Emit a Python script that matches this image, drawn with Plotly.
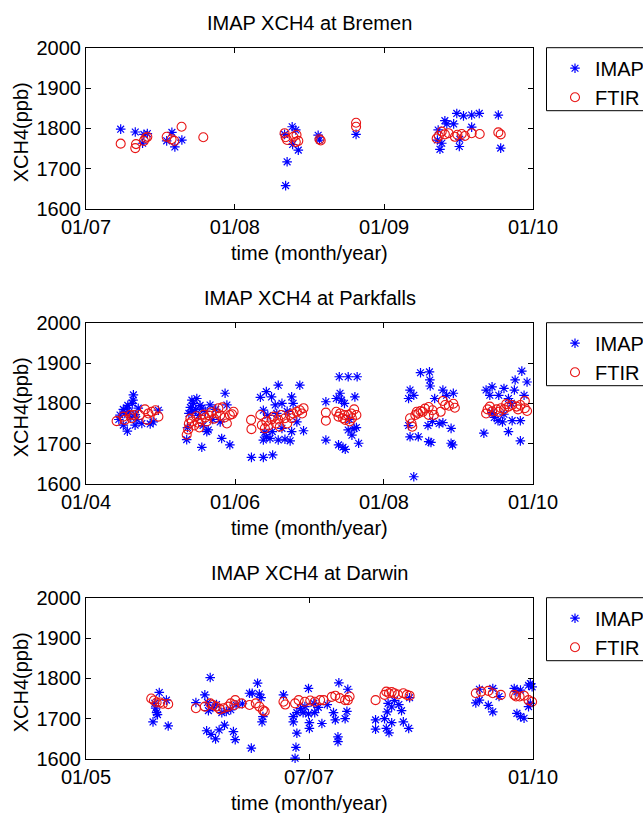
import datetime as dt

import numpy as np
import pandas as pd
import plotly.graph_objects as go

# ---------------------------------------------------------------------------
# Column-averaged methane (XCH4, ppb): IMAP retrievals vs. ground-based FTIR.
# Times are decimal years.
# ---------------------------------------------------------------------------

# Bremen
bremen_imap_t = [2007.233, 2007.331, 2007.389, 2007.412, 2007.380, 2007.577, 2007.542, 2007.597, 2007.644,
                 2008.384, 2008.408, 2008.333, 2008.387, 2008.425, 2008.350, 2008.340, 2008.558, 2008.567, 2008.812,
                 2009.408, 2009.421, 2009.467, 2009.363, 2009.358, 2009.375, 2009.387, 2009.505, 2009.508,
                 2009.488, 2009.533, 2009.588, 2009.588, 2009.639, 2009.767, 2009.783]
bremen_imap_v = [1798, 1791, 1785, 1787, 1763, 1790, 1769, 1754, 1771,
                 1804, 1796, 1785, 1760, 1746, 1717, 1658, 1783, 1771, 1785,
                 1819, 1811, 1811, 1796, 1771, 1748, 1763, 1755, 1773,
                 1837, 1831, 1833, 1803, 1837, 1833, 1751]
bremen_ftir_t = [2007.233, 2007.331, 2007.336, 2007.389, 2007.412, 2007.400, 2007.542, 2007.575, 2007.593, 2007.642, 2007.788,
                 2008.333, 2008.340, 2008.350, 2008.392, 2008.413, 2008.425, 2008.408, 2008.567, 2008.575, 2008.812, 2008.812,
                 2009.353, 2009.367, 2009.387, 2009.408, 2009.433, 2009.475, 2009.492, 2009.521, 2009.542,
                 2009.588, 2009.642, 2009.767, 2009.783]
bremen_ftir_v = [1762, 1751, 1761, 1769, 1779, 1776, 1779, 1773, 1769, 1804, 1778,
                 1788, 1778, 1771, 1779, 1784, 1769, 1766, 1773, 1770, 1814, 1804,
                 1775, 1781, 1792, 1785, 1788, 1779, 1784, 1786, 1781,
                 1788, 1786, 1790, 1785]

# Park Falls
parkfalls_imap_t = [
    2004.635, 2004.630, 2004.620, 2004.546, 2004.500, 2004.554, 2004.500, 2004.658, 2004.748, 2004.860,
    2004.900, 2004.456, 2004.700, 2004.970, 2004.520, 2004.580, 2004.600, 2004.660, 2004.560, 2004.680, 2004.440,
    2005.486, 2005.553, 2005.664, 2005.866, 2005.890, 2005.640, 2005.553, 2005.820, 2005.930, 2005.800,
    2005.350, 2005.420, 2005.360, 2005.380, 2005.400, 2005.430, 2005.440, 2005.470, 2005.510, 2005.530,
    2005.570, 2005.600, 2005.620, 2005.700, 2005.740,
    2006.580, 2006.870, 2006.420, 2006.340, 2006.490, 2006.540, 2006.630, 2006.760, 2006.780, 2006.380,
    2006.220, 2006.380, 2006.505, 2006.380, 2006.470, 2006.580, 2006.670, 2006.740, 2006.760, 2006.830,
    2006.920, 2006.630, 2006.500, 2006.400, 2006.440, 2006.560, 2006.700, 2006.420,
    2007.400, 2007.520, 2007.640, 2007.220, 2007.410, 2007.430, 2007.470, 2007.610, 2007.220, 2007.390,
    2007.450, 2007.480, 2007.660, 2007.520, 2007.570, 2007.600, 2007.360, 2007.630, 2007.540,
    2008.400, 2008.490, 2008.610, 2008.615, 2008.620, 2008.790, 2008.930, 2008.350, 2008.400, 2008.460,
    2008.350, 2008.600, 2008.630, 2008.900, 2008.920, 2008.900, 2008.790, 2008.740, 2008.590, 2008.330,
    2008.650, 2008.840, 2008.680, 2008.330,
    2009.340, 2009.370, 2009.450, 2009.610, 2009.750, 2009.760, 2009.850, 2009.920, 2009.830, 2009.830,
    2009.670, 2009.590, 2009.530, 2009.480, 2009.540, 2009.670, 2009.710, 2009.420, 2009.880, 2009.720,
    2009.450, 2009.610,
]
parkfalls_imap_v = [
    1821, 1808, 1800, 1788, 1785, 1731, 1746, 1746, 1750, 1749,
    1754, 1771, 1788, 1783, 1775, 1779, 1765, 1772, 1795, 1760, 1760,
    1812, 1788, 1796, 1825, 1796, 1734, 1691, 1713, 1697, 1754,
    1710, 1808, 1740, 1775, 1790, 1780, 1800, 1785, 1770, 1795,
    1745, 1780, 1730, 1760, 1785,
    1845, 1845, 1829, 1815, 1816, 1796, 1800, 1816, 1800, 1783,
    1666, 1666, 1672, 1709, 1713, 1709, 1711, 1707, 1730, 1754,
    1732, 1738, 1730, 1728, 1770, 1775, 1780, 1717,
    1866, 1866, 1866, 1804, 1825, 1808, 1800, 1816, 1709, 1697,
    1691, 1686, 1701, 1734, 1721, 1738, 1812, 1740, 1760,
    1618, 1876, 1878, 1858, 1843, 1833, 1825, 1833, 1820, 1717,
    1717, 1705, 1703, 1701, 1697, 1738, 1752, 1750, 1745, 1745,
    1755, 1820, 1812, 1812,
    1726, 1833, 1841, 1837, 1833, 1858, 1880, 1853, 1707, 1757,
    1730, 1754, 1757, 1765, 1820, 1812, 1800, 1820, 1820, 1757,
    1777, 1773,
]
parkfalls_ftir_t = [
    2004.410, 2004.500, 2004.520, 2004.590, 2004.610, 2004.640, 2004.790, 2004.836, 2004.880, 2004.930,
    2004.970, 2004.820, 2004.720,
    2005.350, 2005.370, 2005.380, 2005.400, 2005.420, 2005.450, 2005.480, 2005.500, 2005.520, 2005.550,
    2005.580, 2005.600, 2005.620, 2005.650, 2005.680, 2005.720, 2005.750, 2005.776, 2005.800, 2005.830,
    2005.860, 2005.890, 2005.930, 2005.980, 2005.960,
    2006.215, 2006.220, 2006.340, 2006.360, 2006.420, 2006.490, 2006.550, 2006.580, 2006.670, 2006.740,
    2006.780, 2006.830, 2006.870, 2006.920, 2006.400, 2006.450, 2006.600, 2006.700, 2006.520, 2006.620,
    2006.760, 2006.900,
    2007.220, 2007.220, 2007.360, 2007.410, 2007.450, 2007.480, 2007.540, 2007.570, 2007.630, 2007.600,
    2007.520, 2007.470, 2007.560, 2007.390,
    2008.350, 2008.380, 2008.370, 2008.420, 2008.440, 2008.490, 2008.550, 2008.600, 2008.600, 2008.650,
    2008.670, 2008.760, 2008.790, 2008.820, 2008.870, 2008.930, 2008.950, 2008.520, 2008.460,
    2009.370, 2009.390, 2009.450, 2009.510, 2009.570, 2009.610, 2009.670, 2009.720, 2009.780, 2009.830,
    2009.890, 2009.890, 2009.920, 2009.420, 2009.540, 2009.640, 2009.800,
]
parkfalls_ftir_v = [
    1756, 1767, 1759, 1771, 1763, 1771, 1785, 1775, 1779, 1783,
    1767, 1759, 1771,
    1722, 1735, 1750, 1762, 1755, 1745, 1768, 1752, 1740, 1760,
    1772, 1765, 1755, 1770, 1778, 1762, 1775, 1788, 1770, 1790,
    1765, 1750, 1771, 1779, 1773,
    1759, 1736, 1771, 1746, 1755, 1760, 1750, 1760, 1763, 1771,
    1775, 1779, 1783, 1788, 1738, 1745, 1742, 1750, 1767, 1771,
    1763, 1775,
    1777, 1757, 1779, 1775, 1763, 1759, 1755, 1763, 1771, 1785,
    1771, 1771, 1775, 1767,
    1763, 1742, 1750, 1771, 1779, 1781, 1787, 1791, 1771, 1783,
    1771, 1779, 1806, 1796, 1794, 1799, 1789, 1779, 1775,
    1775, 1785, 1780, 1785, 1788, 1785, 1792, 1796, 1792, 1796,
    1788, 1806, 1781, 1792, 1779, 1798, 1785,
]

# Darwin
darwin_imap_t = [
    2005.820, 2005.750, 2005.920, 2005.780, 2005.790, 2005.800, 2005.900, 2005.770,
    2006.390, 2006.330, 2006.230, 2006.830, 2006.350, 2006.400, 2006.450, 2006.490, 2006.550, 2006.650,
    2006.670, 2006.850, 2006.370, 2006.420, 2006.520, 2006.570, 2006.620, 2006.680, 2006.460, 2006.750,
    2006.360, 2006.920, 2006.860, 2006.940, 2006.960, 2006.970, 2006.980,
    2007.210, 2007.490, 2007.830, 2007.930, 2007.340, 2007.350, 2007.360, 2007.320, 2007.320, 2007.360,
    2007.500, 2007.500, 2007.640, 2007.790, 2007.820, 2007.820, 2007.770, 2007.900, 2007.920, 2007.560,
    2007.490, 2007.430, 2007.450, 2007.600, 2007.700, 2007.400, 2007.550,
    2008.240, 2008.240, 2008.340, 2008.360, 2008.390, 2008.420, 2008.370, 2008.420, 2008.530, 2008.550,
    2008.610, 2008.620, 2008.380, 2008.450, 2008.500,
    2009.360, 2009.400, 2009.500, 2009.550, 2009.400, 2009.550, 2009.620,
    2009.790, 2009.820, 2009.860, 2009.950, 2009.970, 2009.820, 2009.860, 2009.900, 2009.950, 2009.970,
    2009.990,
]
darwin_imap_v = [
    1765, 1692, 1682, 1726, 1715, 1710, 1746, 1738,
    1802, 1759, 1740, 1763, 1670, 1661, 1650, 1672, 1684, 1668,
    1648, 1627, 1720, 1728, 1715, 1718, 1722, 1734, 1735, 1737,
    1740, 1788, 1763, 1761, 1752, 1692, 1705,
    1759, 1775, 1789, 1773, 1602, 1629, 1664, 1692, 1705, 1715,
    1676, 1690, 1688, 1697, 1655, 1643, 1715, 1700, 1718, 1715,
    1712, 1715, 1730, 1728, 1735, 1725, 1738,
    1697, 1674, 1700, 1676, 1665, 1690, 1717, 1729, 1720, 1692,
    1676, 1752, 1738, 1745, 1735,
    1739, 1746, 1733, 1717, 1773, 1775, 1755,
    1775, 1767, 1771, 1783, 1787, 1713, 1705, 1701, 1730, 1738,
    1779,
]
darwin_ftir_t = [
    2005.730, 2005.760, 2005.790, 2005.830, 2005.860, 2005.920,
    2006.230, 2006.330, 2006.390, 2006.420, 2006.460, 2006.500, 2006.540, 2006.590, 2006.620, 2006.670,
    2006.660, 2006.740, 2006.830, 2006.900, 2006.940, 2006.980, 2007.000,
    2007.210, 2007.230, 2007.340, 2007.380, 2007.450, 2007.510, 2007.560, 2007.620, 2007.660, 2007.750,
    2007.790, 2007.840, 2007.900, 2007.930, 2007.950,
    2008.240, 2008.340, 2008.360, 2008.390, 2008.420, 2008.450, 2008.490, 2008.550, 2008.590, 2008.620,
    2009.360, 2009.420, 2009.500, 2009.550, 2009.640,
    2009.790, 2009.810, 2009.850, 2009.900, 2009.950, 2009.990,
]
darwin_ftir_v = [
    1750, 1745, 1740, 1740, 1737, 1736,
    1726, 1730, 1738, 1734, 1730, 1723, 1726, 1730, 1738, 1746,
    1734, 1738, 1734, 1738, 1730, 1721, 1718,
    1742, 1735, 1738, 1746, 1742, 1745, 1742, 1746, 1746, 1754,
    1757, 1751, 1746, 1746, 1755,
    1746, 1759, 1767, 1763, 1766, 1763, 1760, 1763, 1759, 1757,
    1763, 1767, 1769, 1763, 1759,
    1759, 1755, 1755, 1757, 1746, 1742,
]

# Axis tick labels (month/year)
bremen_ticks = ["01/07", "01/08", "01/09", "01/10"]
parkfalls_ticks = ["01/04", "01/06", "01/08", "01/10"]
darwin_ticks = ["01/05", "07/07", "01/10"]
y_ticks = [1600, 1700, 1800, 1900, 2000]
y_range = [1600, 2000]

stations = [
    ("IMAP XCH4 at Bremen", bremen_imap_t, bremen_imap_v, bremen_ftir_t, bremen_ftir_v, bremen_ticks),
    ("IMAP XCH4 at Parkfalls", parkfalls_imap_t, parkfalls_imap_v, parkfalls_ftir_t, parkfalls_ftir_v, parkfalls_ticks),
    ("IMAP XCH4 at Darwin", darwin_imap_t, darwin_imap_v, darwin_ftir_t, darwin_ftir_v, darwin_ticks),
]


def to_dates(years):
    """Decimal years -> datetimes."""
    out = []
    for y in years:
        yr = int(np.floor(y))
        start = dt.datetime(yr, 1, 1)
        end = dt.datetime(yr + 1, 1, 1)
        out.append(start + (end - start) * (y - yr))
    return out


W, H = 643, 813
FONT = "Liberation Sans, Arial, Helvetica, sans-serif"
FS = 20

# panel geometry in pixels (left, right, top, bottom)
x_left, x_right = 86, 533
panels_px = [(47.7, 209.0), (322.7, 484.0), (597.7, 759.0)]

fig = go.Figure()
annotations = []
shapes = []
layout = dict(
    width=W, height=H,
    margin=dict(l=0, r=0, t=0, b=0, autoexpand=False),
    paper_bgcolor="white", plot_bgcolor="white",
    font=dict(family=FONT, size=FS, color="black"),
    showlegend=True,
)

for i, (title, it, iv, ft, fv, ticks) in enumerate(stations):
    n = i + 1
    top_px, bot_px = panels_px[i]
    y0 = 1 - bot_px / H
    y1 = 1 - top_px / H
    xname = "xaxis" if n == 1 else f"xaxis{n}"
    yname = "yaxis" if n == 1 else f"yaxis{n}"
    xref = "x" if n == 1 else f"x{n}"
    yref = "y" if n == 1 else f"y{n}"
    lname = "legend" if n == 1 else f"legend{n}"

    tick_dates = list(pd.to_datetime(ticks, format="%m/%y"))

    fig.add_trace(go.Scatter(
        x=to_dates(it), y=iv, mode="markers", name="IMAP",
        xaxis=xref, yaxis=yref, legend=lname, cliponaxis=False,
        marker=dict(symbol="asterisk-open", size=8,
                    line=dict(color="#0000ff", width=1.2), color="#0000ff"),
    ))
    fig.add_trace(go.Scatter(
        x=to_dates(ft), y=fv, mode="markers", name="FTIR",
        xaxis=xref, yaxis=yref, legend=lname, cliponaxis=False,
        marker=dict(symbol="circle-open", size=9,
                    line=dict(color="#e81414", width=1.1), color="#e81414"),
    ))

    layout[xname] = dict(
        domain=[x_left / W, x_right / W], anchor=yref, type="date",
        range=[tick_dates[0], tick_dates[-1]],
        tickmode="array", tickvals=tick_dates, ticktext=ticks,
        ticks="inside", ticklen=5, tickwidth=1, tickcolor="black",
        showline=True, linecolor="black", linewidth=1, mirror="ticks",
        showgrid=False, zeroline=False,
        tickfont=dict(family=FONT, size=FS, color="black"),
    )
    layout[yname] = dict(
        domain=[y0, y1], anchor=xref, range=y_range,
        tickmode="array", tickvals=y_ticks,
        ticks="inside", ticklen=5, tickwidth=1, tickcolor="black",
        showline=True, linecolor="black", linewidth=1, mirror="ticks",
        showgrid=False, zeroline=False,
        tickfont=dict(family=FONT, size=FS, color="black"),
    )

    # panel title
    annotations.append(dict(
        text=title, xref="paper", yref="paper",
        x=(x_left + x_right) / 2 / W, y=1 - (top_px - 25) / H,
        xanchor="center", yanchor="middle", showarrow=False,
        font=dict(family=FONT, size=FS, color="black"),
    ))
    # x-axis label
    annotations.append(dict(
        text="time (month/year)", xref="paper", yref="paper",
        x=(x_left + x_right) / 2 / W, y=1 - (bot_px + 44) / H,
        xanchor="center", yanchor="middle", showarrow=False,
        font=dict(family=FONT, size=FS, color="black"),
    ))
    # y-axis label
    annotations.append(dict(
        text="XCH4(ppb)", xref="paper", yref="paper",
        x=21 / W, y=1 - ((top_px + bot_px) / 2 + 4) / H,
        xanchor="center", yanchor="middle", showarrow=False, textangle=-90,
        font=dict(family=FONT, size=FS, color="black"),
    ))

    # legend frame (runs off the right edge of the page)
    box_top = top_px
    box_bot = top_px + 63
    shapes.append(dict(
        type="rect", xref="paper", yref="paper",
        x0=546.5 / W, x1=1.3, y0=1 - box_bot / H, y1=1 - box_top / H,
        line=dict(color="black", width=1), fillcolor="white", layer="below",
    ))
    layout[lname] = dict(
        x=555 / W, y=1 - (box_top + 1) / H, xanchor="left", yanchor="top",
        bgcolor="rgba(0,0,0,0)", borderwidth=0,
        font=dict(family=FONT, size=FS, color="black"),
        tracegroupgap=0,
    )

layout["annotations"] = annotations
layout["shapes"] = shapes
fig.update_layout(**layout)

fig.write_html("out.html", config={"displayModeBar": False})
